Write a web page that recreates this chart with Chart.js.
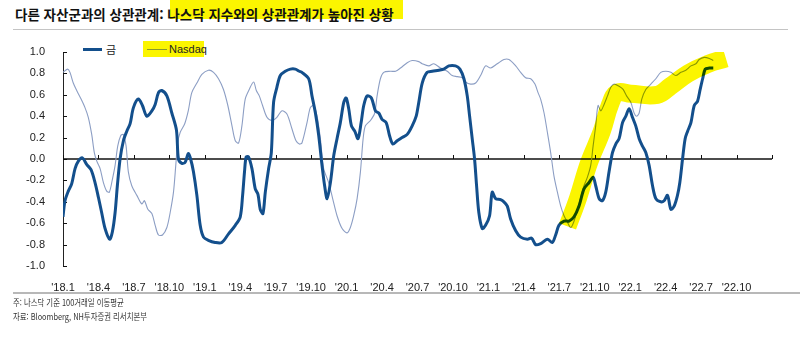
<!DOCTYPE html>
<html lang="ko">
<head>
<meta charset="utf-8">
<script src="https://cdn.jsdelivr.net/npm/chart.js@4/dist/chart.umd.min.js"></script>
<style>
  html, body { margin: 0; padding: 0; background: #fff; }
  #wrap { position: relative; width: 805px; height: 341px; overflow: hidden; font-family: 'Noto Sans CJK KR', 'Noto Sans', sans-serif; }
  #chart { position: absolute; left: 0; top: 0; }
  .title { position: absolute; left: 15px; top: 5px; font-size: 13.5px; font-weight: bold; color: #111; white-space: nowrap; line-height: 18px; }
  .title-mark { position: absolute; left: 170px; top: 0; width: 233px; height: 19px; background: #fbf500; }
  .rule-top { position: absolute; left: 13px; top: 29px; width: 775px; height: 1px; background: #c4c4c4; }
  .rule-bottom { position: absolute; left: 13px; top: 292px; width: 787px; height: 2px; background: #b8b8b8; }
  .legend { position: absolute; font-family: 'Liberation Sans Narrow', 'Liberation Sans', Arial, sans-serif; font-size: 11px; color: #222; line-height: 14px; }
  .note { position: absolute; left: 13px; font-size: 9px; color: #333; white-space: nowrap; transform-origin: left center; transform: scaleX(0.82); line-height: 12px; }
</style>
</head>
<body>
<div id="wrap">
  <div class="title-mark"></div>
  <div class="title">다른 자산군과의 상관관계: 나스닥 지수와의 상관관계가 높아진 상황</div>
  <div class="rule-top"></div>

  <div style="position:absolute;left:83px;top:48px;width:19px;height:3px;background:#134f8c;"></div>
  <div class="legend" style="left:106px;top:42px;font-family:'Noto Sans CJK KR',sans-serif;font-size:11px;">금</div>
  <div style="position:absolute;left:143px;top:41px;width:61px;height:16px;background:#fbf500;"></div>
  <div style="position:absolute;left:147px;top:49px;width:20px;height:1px;background:#8a9a2a;"></div>
  <div class="legend" style="left:169px;top:42px;">Nasdaq</div>

  <canvas id="chart" width="805" height="341"></canvas>

  <div class="rule-bottom"></div>
  <div class="note" style="top:297px;">주: 나스닥 기준 100거래일 이동평균</div>
  <div class="note" style="top:311px;">자료: Bloomberg, NH투자증권 리서치본부</div>
</div>

<script>
// Time axis: months since Jan 2018; quarterly tick labels
const tickLabels = ["'18.1", "'18.4", "'18.7", "'18.10", "'19.1", "'19.4", "'19.7", "'19.10",
  "'20.1", "'20.4", "'20.7", "'20.10", "'21.1", "'21.4", "'21.7", "'21.10",
  "'22.1", "'22.4", "'22.7", "'22.10"];

// 금 (gold) – correlation, x in months since Jan 2018
const goldMonths = [0.00, 0.17, 0.45, 0.74, 1.02, 1.30, 1.64, 2.00, 2.37, 2.71, 3.00, 3.27, 3.56, 3.95, 4.18, 4.41, 4.60, 4.83, 5.11, 5.40,
  5.68, 5.96, 6.38, 6.72, 7.09, 7.52, 7.80, 8.08, 8.36, 8.79, 9.21, 9.60, 9.77, 10.06, 10.34, 10.60, 10.80, 11.04, 11.33, 11.61,
  11.89, 12.30, 12.88, 13.44, 14.01, 14.58, 15.00, 15.20, 15.36, 15.50, 15.70, 15.99, 16.27, 16.50, 16.69, 16.92, 17.12, 17.40, 17.63, 17.82,
  18.10, 18.39, 18.81, 19.24, 19.66, 20.00, 20.22, 20.79, 21.07, 21.36, 21.64, 21.92, 22.14, 22.35, 22.63, 22.91, 23.19, 23.47, 23.76, 23.96,
  24.18, 24.41, 24.69, 24.97, 25.23, 25.45, 25.74, 26.10, 26.44, 26.72, 27.00, 27.35, 27.63, 27.91, 28.28, 28.70, 29.13, 29.55, 29.89, 30.11,
  30.40, 30.82, 31.25, 31.81, 32.23, 32.65, 33.22, 33.59, 33.93, 34.21, 34.41, 34.63, 34.83, 35.00, 35.19, 35.48, 35.76, 36.10, 36.32, 36.61,
  37.03, 37.31, 37.60, 37.88, 38.31, 38.73, 39.30, 39.66, 40.00, 40.42, 40.99, 41.41, 41.69, 41.97, 42.40, 42.82, 43.25, 43.67, 44.09, 44.52,
  44.86, 45.08, 45.37, 45.65, 45.93, 46.21, 46.50, 46.78, 47.06, 47.35, 47.63, 47.91, 48.19, 48.47, 48.76, 49.04, 49.32, 49.60, 49.89, 50.17,
  50.59, 50.87, 51.16, 51.44, 51.72, 52.00, 52.20, 52.43, 52.65, 52.86, 53.14, 53.42, 53.70, 53.92, 54.13, 54.35, 54.69, 55.03];
const goldValues = [-0.54, -0.39, -0.30, -0.23, -0.09, -0.02, 0.01, -0.05, -0.10, -0.22, -0.36, -0.50, -0.65, -0.75, -0.68, -0.50, -0.25, 0.00, 0.17, 0.26,
  0.33, 0.48, 0.56, 0.50, 0.40, 0.45, 0.51, 0.62, 0.64, 0.59, 0.43, 0.27, 0.00, -0.04, -0.03, 0.05, 0.00, -0.12, -0.34, -0.62,
  -0.73, -0.76, -0.78, -0.78, -0.70, -0.62, -0.54, -0.34, -0.12, 0.02, 0.02, -0.09, -0.28, -0.33, -0.47, -0.51, -0.31, -0.09, 0.06, 0.53,
  0.67, 0.78, 0.82, 0.84, 0.84, 0.82, 0.81, 0.75, 0.59, 0.43, 0.22, -0.06, -0.25, -0.37, -0.22, 0.03, 0.19, 0.34, 0.53, 0.57,
  0.47, 0.31, 0.26, 0.19, 0.34, 0.50, 0.59, 0.57, 0.45, 0.43, 0.37, 0.34, 0.22, 0.14, 0.17, 0.20, 0.23, 0.31, 0.40, 0.53,
  0.71, 0.81, 0.82, 0.83, 0.84, 0.87, 0.87, 0.84, 0.75, 0.59, 0.40, 0.19, 0.00, -0.25, -0.50, -0.65, -0.62, -0.53, -0.31, -0.37,
  -0.38, -0.40, -0.44, -0.56, -0.67, -0.73, -0.75, -0.74, -0.80, -0.79, -0.75, -0.78, -0.71, -0.62, -0.58, -0.58, -0.54, -0.44, -0.28, -0.22,
  -0.17, -0.25, -0.37, -0.39, -0.31, -0.12, 0.06, 0.14, 0.19, 0.34, 0.40, 0.47, 0.39, 0.31, 0.19, 0.12, 0.06, -0.06, -0.25, -0.37,
  -0.40, -0.39, -0.34, -0.47, -0.44, -0.34, -0.22, 0.00, 0.19, 0.26, 0.34, 0.50, 0.54, 0.65, 0.75, 0.84, 0.85, 0.85];

// Nasdaq – correlation, x in months since Jan 2018
const nasdaqMonths = [0.00, 0.40, 0.59, 0.87, 1.16, 1.53, 1.86, 2.14, 2.43, 2.65, 2.86, 3.14, 3.42, 3.70, 3.92, 4.18, 4.41, 4.63, 4.89, 5.11,
  5.34, 5.53, 5.82, 6.25, 6.67, 6.89, 7.18, 7.52, 7.80, 8.08, 8.42, 8.79, 9.07, 9.35, 9.55, 9.70, 9.92, 10.30, 10.60, 10.90,
  11.33, 11.75, 12.31, 12.74, 13.16, 13.58, 13.95, 14.30, 14.58, 14.86, 15.14, 15.42, 15.76, 16.13, 16.36, 16.61, 16.89, 17.26, 17.69, 18.10,
  18.53, 18.95, 19.38, 19.72, 20.00, 20.22, 20.65, 20.93, 21.21, 21.50, 21.78, 22.06, 22.48, 22.82, 23.19, 23.62, 24.04, 24.32, 24.60, 24.89,
  25.17, 25.40, 25.59, 26.02, 26.38, 26.58, 26.86, 27.14, 27.71, 28.14, 28.56, 29.13, 29.55, 30.11, 30.40, 30.96, 31.38, 31.95, 32.52, 32.94,
  33.36, 33.79, 34.07, 34.49, 34.92, 35.34, 35.76, 36.19, 36.75, 37.31, 37.74, 38.31, 38.73, 39.15, 39.58, 39.94, 40.20, 40.42, 40.71, 40.99,
  41.27, 41.55, 41.84, 42.12, 42.40, 42.69, 42.97, 43.25, 43.53, 43.81, 44.09, 44.38, 44.66, 44.86, 45.08, 45.28, 45.51, 45.79, 46.08, 46.36,
  46.64, 47.06, 47.40, 47.69, 48.05, 48.33, 48.53, 48.76, 48.98, 49.32, 49.75, 50.17, 50.59, 51.02, 51.44, 51.86, 52.29, 52.71, 53.14, 53.56,
  53.84, 54.27, 54.69, 55.03];
const nasdaqValues = [0.81, 0.84, 0.81, 0.71, 0.64, 0.56, 0.48, 0.39, 0.23, 0.06, -0.02, -0.09, -0.22, -0.30, -0.31, -0.19, -0.06, 0.12, 0.22, 0.23,
  0.12, -0.12, -0.25, -0.34, -0.42, -0.39, -0.47, -0.51, -0.62, -0.71, -0.71, -0.64, -0.50, -0.31, -0.05, 0.15, 0.25, 0.33, 0.45, 0.62,
  0.71, 0.79, 0.83, 0.81, 0.75, 0.65, 0.50, 0.31, 0.17, 0.15, 0.31, 0.56, 0.65, 0.72, 0.64, 0.59, 0.50, 0.39, 0.36, 0.39,
  0.45, 0.42, 0.28, 0.17, 0.14, 0.15, 0.34, 0.48, 0.50, 0.40, 0.19, -0.09, -0.22, -0.37, -0.53, -0.65, -0.69, -0.64, -0.53, -0.37,
  -0.12, 0.19, 0.31, 0.36, 0.43, 0.59, 0.75, 0.81, 0.82, 0.82, 0.85, 0.90, 0.92, 0.91, 0.89, 0.87, 0.89, 0.85, 0.82, 0.78,
  0.77, 0.76, 0.72, 0.70, 0.71, 0.78, 0.87, 0.85, 0.89, 0.93, 0.93, 0.87, 0.81, 0.76, 0.75, 0.70, 0.62, 0.56, 0.43, 0.25,
  0.06, -0.16, -0.31, -0.44, -0.53, -0.59, -0.64, -0.58, -0.47, -0.36, -0.25, -0.17, -0.06, 0.12, 0.31, 0.50, 0.45, 0.51, 0.59, 0.67,
  0.70, 0.68, 0.65, 0.59, 0.53, 0.43, 0.40, 0.43, 0.56, 0.65, 0.70, 0.75, 0.81, 0.82, 0.81, 0.78, 0.81, 0.83, 0.87, 0.89,
  0.93, 0.95, 0.94, 0.92];

// Marker stroke emphasising the recent Nasdaq trend
const markMonths = [42.7, 43.6, 44.5, 45.6, 46.3, 46.9, 48.05, 50.3, 51.4, 52.9, 54.6, 56.1];
const markValues = [-0.63, -0.36, -0.04, 0.26, 0.51, 0.62, 0.61, 0.60, 0.68, 0.80, 0.89, 0.94];

const toPoints = (xs, ys) => xs.map((m, i) => ({ x: m, y: ys[i] }));

const narrowFont = "'Liberation Sans Narrow', 'Liberation Sans', Arial, sans-serif";

// zero line with upward ticks, and inward y ticks
const axisMarks = {
  id: 'axisMarks',
  beforeDatasetsDraw(chart) {
    const { ctx, chartArea, scales: { x, y } } = chart;
    const y0 = Math.round(y.getPixelForValue(0));
    ctx.save();
    ctx.strokeStyle = '#111';
    ctx.lineWidth = 1.6;
    ctx.beginPath();
    ctx.moveTo(chartArea.left, y0);
    ctx.lineTo(chartArea.right, y0);
    ctx.stroke();
    ctx.lineWidth = 1;
    ctx.beginPath();
    x.ticks.forEach(t => {
      const px = Math.round(x.getPixelForValue(t.value)) + 0.5;
      ctx.moveTo(px, y0);
      ctx.lineTo(px, y0 - 4);
    });
    y.ticks.forEach(t => {
      const py = Math.round(y.getPixelForValue(t.value)) + 0.5;
      ctx.moveTo(chartArea.left, py);
      ctx.lineTo(chartArea.left + 4, py);
    });
    ctx.stroke();
    ctx.restore();
  }
};

// marker stroke blends like a highlighter
const highlighter = {
  id: 'highlighter',
  beforeDatasetDraw(chart, args) {
    if (args.meta.label === 'mark') {
      chart.ctx.save();
      chart.ctx.globalCompositeOperation = 'multiply';
    }
  },
  afterDatasetDraw(chart, args) {
    if (args.meta.label === 'mark') chart.ctx.restore();
  }
};

new Chart(document.getElementById('chart'), {
  type: 'line',
  data: {
    datasets: [
      {
        label: '금',
        data: toPoints(goldMonths, goldValues),
        borderColor: '#134f8c',
        borderWidth: 3,
        pointRadius: 0,
        tension: 0.3,
        order: 0
      },
      {
        label: 'Nasdaq',
        data: toPoints(nasdaqMonths, nasdaqValues),
        borderColor: '#8c9ec4',
        borderWidth: 1.1,
        pointRadius: 0,
        tension: 0.3,
        order: 1
      },
      {
        label: 'mark',
        data: toPoints(markMonths, markValues),
        borderColor: '#fbf500',
        borderWidth: 18,
        borderCapStyle: 'butt',
        borderJoinStyle: 'round',
        pointRadius: 0,
        tension: 0.4,
        order: -1
      }
    ]
  },
  options: {
    responsive: false,
    animation: false,
    devicePixelRatio: 1,
    layout: { padding: { left: 0, right: 33, top: 52, bottom: 0 } },
    plugins: { legend: { display: false }, tooltip: { enabled: false } },
    scales: {
      x: {
        type: 'linear',
        min: 0,
        max: 60,
        grid: { display: false },
        border: { display: false },
        afterFit(scale) { scale.height = 75; },
        afterBuildTicks(scale) {
          scale.ticks = [];
          for (let m = 0; m <= 60; m += 3) scale.ticks.push({ value: m });
        },
        ticks: {
          autoSkip: false,
          maxRotation: 0,
          padding: 7,
          color: '#222',
          font: { family: narrowFont, size: 11 },
          callback: (v) => tickLabels[v / 3] || ''
        }
      },
      y: {
        min: -1,
        max: 1,
        grid: { display: false },
        border: { display: true, color: '#222', width: 1 },
        afterFit(scale) { scale.width = 63; },
        ticks: {
          stepSize: 0.2,
          padding: 10,
          color: '#222',
          font: { family: narrowFont, size: 11 },
          callback: (v) => v.toFixed(1)
        }
      }
    }
  },
  plugins: [axisMarks, highlighter]
});
</script>
</body>
</html>
